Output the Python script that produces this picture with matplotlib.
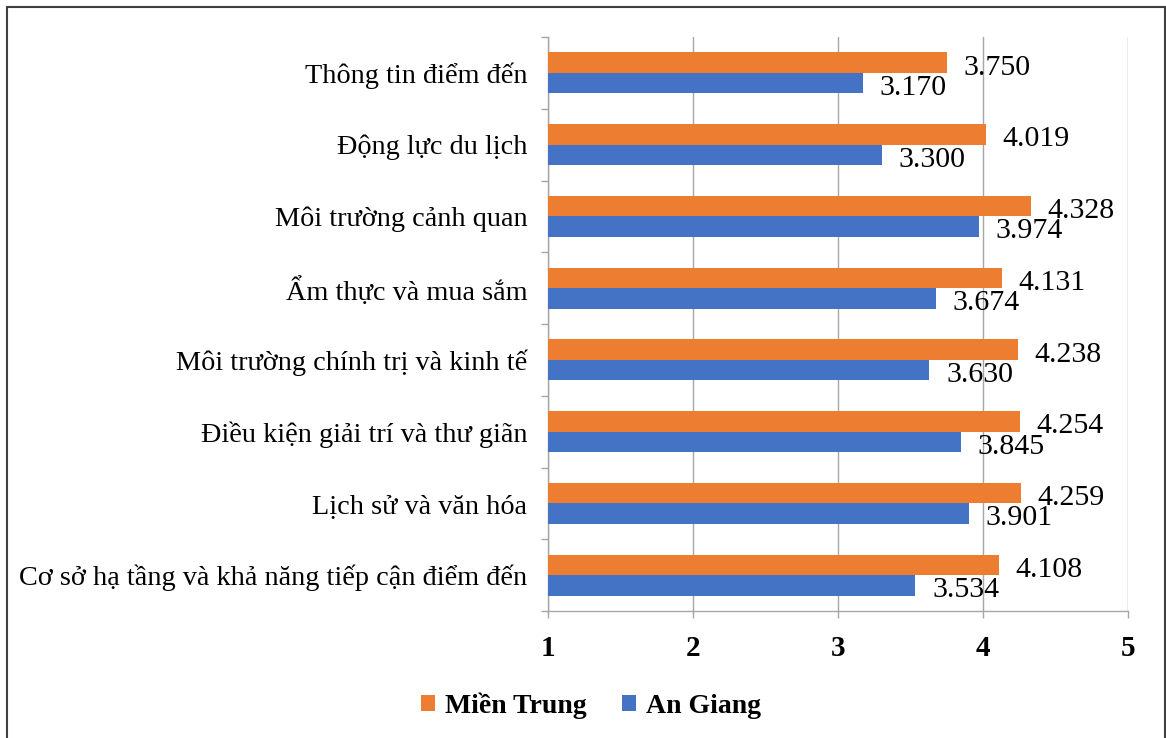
import matplotlib
matplotlib.use("Agg")
import matplotlib.pyplot as plt
from matplotlib.patches import Rectangle
import numpy as np

plt.rcParams['font.family'] = ['Liberation Serif', 'DejaVu Serif']

categories = [
    "Cơ sở hạ tầng và khả năng tiếp cận điểm đến",
    "Lịch sử và văn hóa",
    "Điều kiện giải trí và thư giãn",
    "Môi trường chính trị và kinh tế",
    "Ẩm thực và mua sắm",
    "Môi trường cảnh quan",
    "Động lực du lịch",
    "Thông tin điểm đến",
]
mien_trung = [4.108, 4.259, 4.254, 4.238, 4.131, 4.328, 4.019, 3.750]
an_giang = [3.534, 3.901, 3.845, 3.630, 3.674, 3.974, 3.300, 3.170]
x_ticks = [1, 2, 3, 4, 5]

ORANGE = "#ED7D31"
BLUE = "#4472C4"
GRID = "#a6a6a6"

W, H = 1166, 738
fig = plt.figure(figsize=(W / 100, H / 100), dpi=100)
ax = fig.add_axes([548 / W, 1 - 611 / H, (1128 - 548) / W, (611 - 37) / H])

y = np.arange(len(categories))
h = 0.285
bars_mt = ax.barh(y + h / 2, mien_trung, height=h, color=ORANGE, label="Miền Trung", zorder=3)
bars_ag = ax.barh(y - h / 2, an_giang, height=h, color=BLUE, label="An Giang", zorder=3)

for val, yy in zip(mien_trung, y + h / 2):
    ax.annotate(f"{val:.3f}", (val, yy), xytext=(12, -3.5), textcoords="offset points",
                ha="left", va="center", fontsize=21.5, zorder=4)
for val, yy in zip(an_giang, y - h / 2):
    ax.annotate(f"{val:.3f}", (val, yy), xytext=(12, -3.5), textcoords="offset points",
                ha="left", va="center", fontsize=21.5, zorder=4)

ax.set_xlim(1, 5)
ax.set_ylim(-0.5, len(categories) - 0.5)
ax.set_xticks(x_ticks)
ax.set_xticklabels([str(t) for t in x_ticks], fontsize=21, fontweight="bold")
ax.set_yticks(np.arange(-0.5, len(categories), 1.0), minor=False)
ax.set_yticklabels([])
ax.set_yticks(y, minor=True)
ax.set_yticklabels(categories, minor=True, fontsize=20.3)
ax.tick_params(axis="y", which="minor", length=0, pad=15)
ax.tick_params(axis="y", which="major", length=5, color=GRID, width=1)
ax.tick_params(axis="x", length=5, color=GRID, width=1, pad=12)

ax.grid(axis="x", color=GRID, linewidth=1, zorder=0)
for side in ("top", "right"):
    ax.spines[side].set_visible(False)
for side in ("left", "bottom"):
    ax.spines[side].set_color(GRID)
    ax.spines[side].set_linewidth(1)

handles = [bars_mt, bars_ag]
fig.legend(handles, ["Miền Trung", "An Giang"], loc="center", ncol=2,
           bbox_to_anchor=(591 / W, 1 - 706 / H), frameon=False,
           prop={"weight": "bold", "size": 20}, handlelength=0.5, handleheight=0.5,
           handletextpad=0.35, columnspacing=1.3)

fig.patches.append(Rectangle((7 / W, -0.05), (1165 - 7) / W, 1.05 - 7 / H,
                             transform=fig.transFigure, fill=False,
                             edgecolor="#404040", linewidth=1.5))

fig.savefig("out.png", dpi=100, facecolor="white")
